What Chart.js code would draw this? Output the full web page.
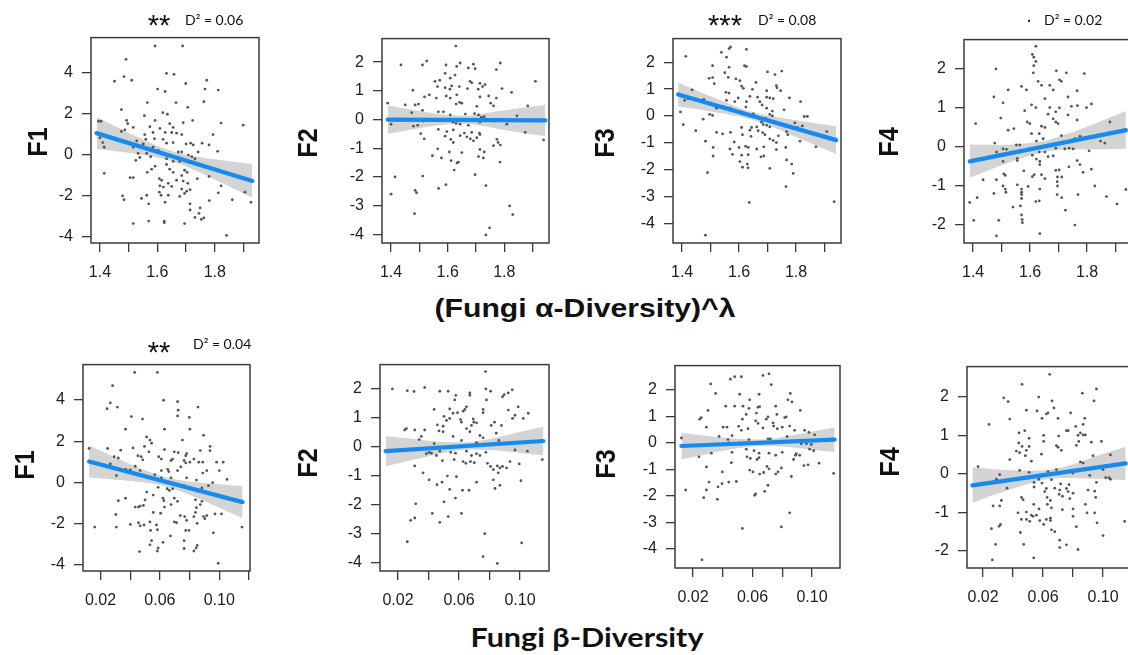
<!DOCTYPE html>
<html><head><meta charset="utf-8">
<script src="https://cdn.jsdelivr.net/npm/chart.js@4/dist/chart.umd.min.js"></script>
<style>
html,body{margin:0;padding:0;background:#fff}
body{width:1128px;height:655px;overflow:hidden;position:relative;font-family:'Liberation Sans',Arial,sans-serif;color:#111}
canvas{position:absolute}
.t{position:absolute;white-space:nowrap;line-height:1}
.yt{position:absolute;white-space:nowrap;line-height:1;font:bold 28px 'Liberation Sans',Arial,sans-serif;transform:translate(-50%,-50%) rotate(-90deg) scaleX(0.9)}
.st{position:absolute;white-space:nowrap;line-height:1;font:29px 'Liberation Sans',Arial,sans-serif;transform:translateX(-50%)}
.d2{position:absolute;white-space:nowrap;line-height:1;font:14px Lato,'Open Sans',sans-serif}
</style>
</head><body>
<script>
// ---------- tick labels ----------
const alphaTickLabels = ['1.4','1.6','1.8'];
const betaTickLabels = ['0.02','0.06','0.10'];

// ---------- top row: (Fungi alpha-diversity)^lambda vs F1..F4 ----------
const alphaF1 = [[1.592,5.29],[1.688,5.29],[1.491,4.64],[1.484,3.80],[1.451,3.57],[1.511,3.62],[1.632,3.95],[1.658,3.91],[1.772,3.62],[1.699,3.46],[1.601,3.19],[1.627,3.07],[1.766,3.19],[1.812,3.14],[1.565,2.53],[1.665,2.53],[1.762,2.57],[1.706,2.30],[1.475,2.19],[1.619,2.04],[1.555,1.89],[1.635,1.96],[1.592,1.66],[1.493,1.66],[1.395,1.62],[1.404,1.62],[1.497,1.50],[1.690,1.55],[1.723,1.66],[1.822,1.53],[1.899,1.43],[1.516,1.32],[1.574,1.35],[1.609,1.27],[1.643,1.50],[1.655,1.32],[1.585,1.07],[1.650,1.07],[1.667,1.04],[1.685,0.97],[1.627,1.07],[1.794,0.97],[1.556,0.97],[1.475,1.12],[1.487,1.20],[1.400,0.81],[1.410,0.58],[1.415,0.35],[1.560,0.74],[1.590,0.77],[1.620,0.74],[1.632,0.55],[1.655,0.58],[1.700,0.51],[1.716,0.55],[1.725,0.46],[1.780,0.46],[1.528,0.66],[1.516,0.35],[1.551,0.51],[1.585,0.35],[1.810,0.15],[1.603,0.20],[1.685,0.12],[1.708,-0.03],[1.720,-0.11],[1.731,-0.21],[1.563,0.05],[1.539,-0.15],[1.577,-0.11],[1.525,-0.29],[1.415,-0.92],[1.655,-0.34],[1.678,-0.34],[1.592,-0.57],[1.632,-0.49],[1.580,-0.72],[1.565,-0.87],[1.643,-0.72],[1.655,-0.87],[1.695,-0.77],[1.704,-0.87],[1.685,-1.03],[1.739,-1.18],[1.780,-1.07],[1.505,-1.13],[1.516,-1.13],[1.607,-1.18],[1.615,-1.26],[1.638,-1.41],[1.667,-1.26],[1.690,-1.30],[1.706,-1.41],[1.609,-1.53],[1.621,-1.59],[1.650,-1.56],[1.685,-1.69],[1.702,-1.79],[1.714,-1.72],[1.607,-1.84],[1.613,-1.99],[1.638,-1.99],[1.678,-2.05],[1.695,-1.90],[1.479,-2.02],[1.484,-2.21],[1.545,-2.15],[1.563,-1.99],[1.812,-1.87],[1.822,-1.53],[1.781,-2.25],[1.861,-2.21],[1.905,-1.84],[1.926,-2.33],[1.627,-2.33],[1.570,-2.41],[1.714,-2.41],[1.749,-2.61],[1.714,-2.71],[1.745,-2.87],[1.731,-3.07],[1.753,-3.17],[1.762,-3.10],[1.695,-3.37],[1.624,-3.25],[1.624,-3.33],[1.570,-3.25],[1.516,-3.37],[1.841,-3.95],[1.632,-0.21],[1.673,0.12],[1.533,0.05],[1.742,0.12],[1.756,0.55]];
const alphaF2 = [[1.629,2.56],[1.435,1.90],[1.526,2.04],[1.511,1.90],[1.594,1.90],[1.644,1.97],[1.632,1.85],[1.691,1.93],[1.697,1.77],[1.673,1.80],[1.786,1.97],[1.772,1.74],[1.591,1.61],[1.626,1.55],[1.609,1.44],[1.555,1.33],[1.572,1.37],[1.564,1.15],[1.591,1.11],[1.614,1.17],[1.641,1.15],[1.679,1.33],[1.685,1.28],[1.714,1.26],[1.723,1.15],[1.732,1.22],[1.910,1.33],[1.477,1.02],[1.608,1.06],[1.670,1.08],[1.708,1.06],[1.792,1.08],[1.826,0.95],[1.518,0.79],[1.535,0.86],[1.560,0.75],[1.595,0.82],[1.609,0.75],[1.632,0.86],[1.714,0.79],[1.745,0.82],[1.772,0.75],[1.388,0.57],[1.450,0.51],[1.485,0.51],[1.497,0.54],[1.630,0.54],[1.642,0.60],[1.650,0.57],[1.703,0.46],[1.752,0.57],[1.762,0.48],[1.883,0.48],[1.473,0.24],[1.511,0.32],[1.567,0.27],[1.585,0.27],[1.609,0.16],[1.662,0.19],[1.695,0.21],[1.709,0.16],[1.719,0.08],[1.729,0.10],[1.845,0.13],[1.400,-0.16],[1.479,-0.23],[1.494,-0.20],[1.514,-0.05],[1.620,-0.09],[1.630,-0.14],[1.644,-0.16],[1.673,-0.20],[1.714,-0.09],[1.766,-0.05],[1.809,-0.16],[1.567,-0.34],[1.597,-0.42],[1.620,-0.36],[1.659,-0.47],[1.685,-0.45],[1.712,-0.47],[1.874,-0.45],[1.505,-0.49],[1.517,-0.67],[1.591,-0.58],[1.611,-0.69],[1.620,-0.80],[1.644,-0.56],[1.668,-0.60],[1.680,-0.67],[1.691,-0.74],[1.703,-0.63],[1.714,-0.52],[1.762,-0.91],[1.774,-0.69],[1.778,-0.80],[1.786,-0.89],[1.939,-0.71],[1.565,-1.02],[1.606,-1.13],[1.650,-1.15],[1.714,-1.04],[1.729,-1.13],[1.546,-1.26],[1.578,-1.34],[1.612,-1.43],[1.633,-1.51],[1.638,-1.48],[1.709,-1.29],[1.726,-1.34],[1.785,-1.48],[1.623,-1.76],[1.697,-1.92],[1.414,-2.00],[1.512,-1.97],[1.594,-2.27],[1.568,-2.40],[1.735,-2.30],[1.485,-2.47],[1.490,-2.55],[1.400,-2.60],[1.483,-3.28],[1.819,-3.01],[1.830,-3.31],[1.748,-3.77],[1.735,-4.02]];
const alphaF3 = [[1.570,2.57],[1.565,2.51],[1.626,2.48],[1.538,2.37],[1.413,2.22],[1.556,2.19],[1.619,1.87],[1.626,1.84],[1.507,1.87],[1.565,1.81],[1.550,1.61],[1.700,1.64],[1.750,1.67],[1.726,1.54],[1.495,1.40],[1.507,1.43],[1.562,1.44],[1.589,1.38],[1.603,1.31],[1.513,1.20],[1.609,1.11],[1.615,1.03],[1.659,1.25],[1.731,1.13],[1.733,1.05],[1.746,0.94],[1.697,0.94],[1.554,0.88],[1.565,0.85],[1.647,0.99],[1.435,0.97],[1.388,0.82],[1.597,0.67],[1.638,0.73],[1.665,0.70],[1.697,0.70],[1.708,0.67],[1.720,0.64],[1.777,0.67],[1.556,0.58],[1.585,0.53],[1.626,0.53],[1.673,0.53],[1.816,0.53],[1.409,0.58],[1.476,0.62],[1.421,0.64],[1.681,0.41],[1.697,0.29],[1.624,0.33],[1.568,0.29],[1.544,0.35],[1.521,0.29],[1.758,0.23],[1.717,0.18],[1.394,0.15],[1.497,0.06],[1.507,0.02],[1.708,0.06],[1.717,0.00],[1.829,-0.02],[1.840,-0.02],[1.650,0.08],[1.694,-0.09],[1.679,-0.23],[1.685,-0.32],[1.697,-0.35],[1.708,-0.41],[1.404,-0.32],[1.474,-0.12],[1.609,-0.43],[1.644,-0.43],[1.662,-0.41],[1.744,-0.32],[1.796,-0.26],[1.822,-0.37],[1.805,-0.43],[1.448,-0.55],[1.521,-0.61],[1.570,-0.61],[1.638,-0.53],[1.667,-0.55],[1.683,-0.62],[1.767,-0.58],[1.908,-0.58],[1.542,-0.67],[1.612,-0.70],[1.642,-0.76],[1.691,-0.70],[1.738,-0.74],[1.771,-0.70],[1.814,-0.94],[1.482,-0.94],[1.583,-0.97],[1.708,-0.85],[1.720,-0.91],[1.731,-0.99],[1.509,-1.17],[1.600,-1.17],[1.623,-1.13],[1.632,-1.17],[1.687,-1.15],[1.731,-1.25],[1.764,-1.17],[1.870,-1.15],[1.568,-1.23],[1.662,-1.23],[1.509,-1.49],[1.577,-1.43],[1.609,-1.46],[1.632,-1.44],[1.677,-1.52],[1.687,-1.49],[1.603,-1.70],[1.629,-1.79],[1.767,-1.64],[1.612,-1.91],[1.632,-1.93],[1.708,-1.95],[1.489,-2.11],[1.785,-1.79],[1.790,-2.14],[1.765,-2.63],[1.636,-3.22],[1.934,-3.19],[1.482,-4.44]];
const alphaF4 = [[1.620,2.58],[1.608,2.37],[1.613,2.30],[1.620,2.19],[1.613,2.08],[1.480,2.00],[1.692,1.95],[1.727,1.90],[1.790,1.88],[1.611,1.90],[1.703,1.72],[1.710,1.68],[1.628,1.68],[1.640,1.58],[1.669,1.58],[1.570,1.55],[1.681,1.46],[1.765,1.44],[1.587,1.46],[1.523,1.46],[1.473,1.28],[1.652,1.24],[1.733,1.28],[1.505,1.13],[1.605,1.08],[1.620,1.01],[1.669,1.01],[1.703,1.00],[1.745,1.04],[1.766,1.06],[1.798,1.01],[1.815,1.10],[1.581,0.93],[1.663,0.84],[1.690,0.90],[1.733,0.82],[1.497,0.74],[1.590,0.64],[1.599,0.60],[1.640,0.53],[1.681,0.72],[1.690,0.64],[1.698,0.60],[1.652,0.50],[1.409,0.60],[1.523,0.43],[1.543,0.47],[1.765,0.69],[1.880,0.64],[1.605,0.34],[1.632,0.34],[1.710,0.29],[1.757,0.21],[1.775,0.27],[1.847,0.15],[1.862,0.10],[1.622,0.15],[1.646,0.21],[1.476,0.10],[1.552,0.05],[1.564,0.05],[1.690,-0.03],[1.722,-0.05],[1.737,-0.03],[1.751,-0.05],[1.505,-0.05],[1.517,-0.06],[1.482,-0.13],[1.632,-0.13],[1.652,-0.13],[1.807,-0.10],[1.608,-0.21],[1.663,-0.25],[1.681,-0.23],[1.555,-0.29],[1.555,-0.35],[1.622,-0.31],[1.634,-0.37],[1.765,-0.35],[1.634,-0.45],[1.505,-0.37],[1.775,-0.45],[1.736,-0.51],[1.578,-0.61],[1.690,-0.60],[1.702,-0.59],[1.815,-0.57],[1.786,-0.65],[1.614,-0.71],[1.608,-0.76],[1.513,-0.73],[1.508,-0.69],[1.640,-0.71],[1.482,-0.84],[1.435,-0.84],[1.696,-0.77],[1.711,-0.77],[1.652,-0.81],[1.695,-0.89],[1.555,-0.97],[1.593,-1.01],[1.505,-1.00],[1.696,-1.00],[1.827,-1.00],[1.513,-1.08],[1.570,-1.08],[1.634,-1.08],[1.936,-1.09],[1.515,-1.16],[1.570,-1.16],[1.570,-1.22],[1.695,-1.22],[1.768,-1.22],[1.473,-1.19],[1.711,-1.30],[1.414,-1.30],[1.868,-1.27],[1.570,-1.32],[1.388,-1.42],[1.620,-1.40],[1.632,-1.38],[1.905,-1.46],[1.540,-1.54],[1.566,-1.51],[1.724,-1.62],[1.570,-1.74],[1.572,-1.86],[1.573,-1.94],[1.402,-1.88],[1.490,-1.88],[1.757,-2.00],[1.634,-2.22],[1.482,-2.28]];

// ---------- bottom row: Fungi beta-diversity vs F1..F4 ----------
const betaF1 = [[0.0430,5.34],[0.0583,5.34],[0.0281,4.70],[0.0244,3.58],[0.0266,3.86],[0.0314,3.66],[0.0408,3.20],[0.0483,3.08],[0.0625,3.99],[0.0719,3.92],[0.0723,3.51],[0.0719,3.23],[0.0798,3.16],[0.0857,3.66],[0.0369,2.59],[0.0631,2.59],[0.0802,2.59],[0.0894,2.29],[0.0511,2.21],[0.0533,2.06],[0.0544,1.91],[0.0752,2.06],[0.0123,1.65],[0.0248,1.65],[0.0336,1.57],[0.0419,1.68],[0.0496,1.75],[0.0526,1.49],[0.0592,1.25],[0.0631,1.60],[0.0697,1.49],[0.0723,1.45],[0.0774,1.30],[0.0780,1.40],[0.0872,1.55],[0.0938,1.75],[0.0938,1.55],[0.0292,1.25],[0.0320,1.19],[0.0474,1.25],[0.0452,1.30],[0.0485,1.10],[0.0610,1.14],[0.0675,1.07],[0.0686,1.14],[0.0763,1.07],[0.0774,0.95],[0.0802,0.99],[0.0829,1.14],[0.0862,0.99],[0.0889,0.99],[0.0982,0.99],[0.1026,0.99],[0.1000,0.58],[0.1052,0.15],[0.0266,0.91],[0.0369,0.64],[0.0401,0.61],[0.0434,0.79],[0.0467,0.58],[0.0610,0.58],[0.0653,0.64],[0.0660,0.53],[0.0719,0.58],[0.0741,0.76],[0.0889,0.46],[0.0916,0.58],[0.0307,0.34],[0.0566,0.38],[0.0610,0.23],[0.0675,0.23],[0.0780,0.23],[0.0846,0.12],[0.0955,0.00],[0.0588,-0.23],[0.0649,-0.30],[0.0664,-0.38],[0.0686,-0.30],[0.0763,-0.15],[0.0818,-0.30],[0.0883,-0.26],[0.0927,-0.15],[0.0511,-0.46],[0.0555,-0.61],[0.0621,-0.76],[0.0627,-0.88],[0.0320,-0.88],[0.0369,-0.76],[0.0500,-0.84],[0.0697,-0.76],[0.0719,-0.91],[0.0840,-0.84],[0.0883,-0.91],[0.0631,-1.19],[0.0675,-1.07],[0.0846,-1.22],[0.0872,-1.07],[0.0434,-1.19],[0.0456,-1.19],[0.0467,-1.14],[0.0489,-1.11],[0.0555,-1.45],[0.0605,-1.49],[0.0840,-1.45],[0.0916,-1.60],[0.0737,-1.60],[0.0767,-1.65],[0.0894,-1.65],[0.0903,-1.75],[0.0971,-1.52],[0.1015,-1.52],[0.0303,-1.55],[0.0697,-1.91],[0.0712,-1.95],[0.0780,-1.83],[0.0829,-1.65],[0.0851,-1.98],[0.0401,-2.03],[0.0307,-2.16],[0.0161,-2.16],[0.0456,-1.95],[0.0467,-2.10],[0.0493,-2.06],[0.0533,-1.91],[0.0577,-2.06],[0.0537,-2.32],[0.0583,-2.29],[0.0774,-2.32],[0.0796,-2.32],[0.0960,-2.44],[0.1153,-2.16],[0.0544,-2.82],[0.0621,-2.90],[0.0671,-2.59],[0.0763,-2.82],[0.0851,-3.05],[0.0844,-3.17],[0.0829,-3.32],[0.0588,-3.17],[0.0583,-3.32],[0.0463,-3.35],[0.0533,-3.02],[0.0763,-3.20],[0.0993,-3.92]];
const betaF2 = [[0.0774,2.59],[0.0163,1.99],[0.0261,1.93],[0.0305,1.90],[0.0375,2.04],[0.0474,1.91],[0.0529,1.91],[0.0579,1.77],[0.0572,1.61],[0.0671,1.85],[0.0671,1.77],[0.0649,1.37],[0.0638,1.28],[0.0627,1.22],[0.0776,1.99],[0.0807,1.91],[0.0780,1.61],[0.0758,1.28],[0.0758,1.17],[0.0885,1.72],[0.0896,1.79],[0.0923,1.85],[0.0949,1.96],[0.0988,1.37],[0.0923,1.26],[0.0967,1.08],[0.0951,0.97],[0.1021,0.97],[0.1054,1.15],[0.0437,1.28],[0.0539,1.30],[0.0561,1.15],[0.0590,1.17],[0.0610,0.93],[0.0616,0.84],[0.0502,1.04],[0.0518,0.90],[0.0539,0.97],[0.0693,0.95],[0.0697,0.84],[0.0715,0.82],[0.0682,0.73],[0.0458,0.75],[0.0496,0.70],[0.0469,0.54],[0.0496,0.51],[0.0244,0.57],[0.0255,0.62],[0.0310,0.57],[0.0375,0.57],[0.0649,0.62],[0.0671,0.51],[0.0811,0.73],[0.0833,0.84],[0.0878,0.73],[0.0844,0.46],[0.0737,0.38],[0.0758,0.30],[0.0561,0.35],[0.0353,0.35],[0.0339,0.24],[0.0616,0.21],[0.0715,0.13],[0.0861,0.21],[0.0437,0.10],[0.0404,-0.20],[0.0386,-0.25],[0.0419,-0.23],[0.0452,-0.31],[0.0474,-0.16],[0.0546,-0.20],[0.0577,-0.23],[0.0649,-0.16],[0.0682,-0.31],[0.0715,-0.25],[0.0737,-0.31],[0.0776,-0.20],[0.0967,-0.12],[0.1048,-0.16],[0.1146,-0.45],[0.0491,-0.49],[0.0568,-0.45],[0.0627,-0.52],[0.0645,-0.58],[0.0675,-0.52],[0.0700,-0.56],[0.0787,-0.58],[0.0807,-0.69],[0.0825,-0.80],[0.0851,-0.67],[0.0868,-0.74],[0.0885,-0.69],[0.0912,-0.74],[0.0934,-0.52],[0.0995,-0.60],[0.0857,-0.91],[0.0310,-0.67],[0.0364,-0.91],[0.0404,-1.15],[0.0456,-1.32],[0.0489,-1.23],[0.0524,-1.02],[0.0539,-1.48],[0.0583,-1.04],[0.0623,-1.51],[0.0666,-1.51],[0.0715,-1.23],[0.0825,-1.15],[0.0836,-1.45],[0.0868,-1.34],[0.1006,-1.18],[0.0502,-1.91],[0.0577,-1.78],[0.0316,-1.98],[0.0425,-2.31],[0.0616,-2.31],[0.0529,-2.42],[0.0474,-2.62],[0.0310,-2.47],[0.0283,-2.55],[0.0261,-3.29],[0.0769,-3.01],[0.1011,-3.33],[0.0758,-3.80],[0.0851,-4.04]];
const betaF3 = [[0.0711,2.60],[0.0670,2.54],[0.0480,2.49],[0.0451,2.40],[0.0525,2.49],[0.0319,2.22],[0.0726,2.19],[0.0352,1.86],[0.0514,1.83],[0.0644,1.83],[0.0854,1.86],[0.0581,1.62],[0.0838,1.62],[0.0865,1.54],[0.0420,1.38],[0.0480,1.38],[0.0536,1.38],[0.0576,1.30],[0.0637,1.34],[0.0648,1.36],[0.0756,1.38],[0.0301,1.22],[0.0921,1.22],[0.0558,1.07],[0.0626,1.12],[0.0764,1.07],[0.0827,0.98],[0.0704,0.98],[0.0693,0.89],[0.0816,0.95],[0.0245,0.89],[0.0256,0.95],[0.0532,0.89],[0.0621,0.83],[0.0637,0.73],[0.0738,0.75],[0.0742,0.63],[0.0767,0.53],[0.0800,0.59],[0.0850,0.63],[0.0883,0.47],[0.0290,0.59],[0.0402,0.59],[0.0428,0.59],[0.0507,0.62],[0.0525,0.47],[0.0570,0.53],[0.0670,0.56],[0.0950,0.47],[0.0979,0.39],[0.0375,0.24],[0.0462,0.27],[0.0435,0.12],[0.0576,0.12],[0.0704,0.15],[0.0720,0.15],[0.0832,0.24],[0.0899,0.06],[0.1018,0.30],[0.0122,0.18],[0.0442,0.00],[0.0525,-0.06],[0.0928,-0.04],[0.0962,-0.04],[0.0995,-0.06],[0.0240,-0.53],[0.0323,-0.39],[0.0462,-0.36],[0.0558,-0.24],[0.0610,-0.30],[0.0644,-0.39],[0.0563,-0.53],[0.0585,-0.59],[0.0630,-0.63],[0.0644,-0.56],[0.0711,-0.39],[0.0756,-0.47],[0.0800,-0.36],[0.0889,-0.47],[0.0894,-0.41],[0.0917,-0.47],[0.0984,-0.24],[0.1011,-0.30],[0.1047,-0.77],[0.0290,-0.91],[0.0458,-0.75],[0.0581,-1.03],[0.0603,-1.10],[0.0648,-1.18],[0.0675,-1.12],[0.0697,-0.89],[0.0711,-0.98],[0.0756,-1.18],[0.0771,-1.10],[0.0794,-0.95],[0.0861,-1.27],[0.0876,-0.63],[0.0946,-0.86],[0.0973,-0.83],[0.1145,-1.15],[0.0397,-1.10],[0.0440,-1.48],[0.0491,-1.46],[0.0395,-1.54],[0.0308,-1.48],[0.0290,-1.78],[0.0368,-1.66],[0.0151,-1.78],[0.0272,-2.07],[0.0364,-2.13],[0.0621,-1.93],[0.0614,-1.98],[0.0682,-1.83],[0.0704,-1.60],[0.0850,-2.64],[0.0532,-3.23],[0.0794,-3.17],[0.0260,-4.41]];
const betaF4 = [[0.0644,2.58],[0.0460,2.32],[0.0338,1.97],[0.0367,1.87],[0.0571,1.99],[0.0862,2.09],[0.0956,2.20],[0.0940,1.89],[0.0240,1.28],[0.0378,1.42],[0.0489,1.65],[0.0560,1.63],[0.0622,1.55],[0.0633,1.58],[0.0593,1.44],[0.0660,1.89],[0.0673,1.71],[0.0700,1.44],[0.0784,1.58],[0.0878,1.44],[0.0867,1.28],[0.0440,1.06],[0.0478,1.12],[0.0604,1.00],[0.0604,0.84],[0.0704,0.98],[0.0756,1.12],[0.0767,1.12],[0.0818,1.23],[0.0833,1.00],[0.0849,1.06],[0.0867,1.01],[0.0882,1.01],[0.0507,0.92],[0.0438,0.80],[0.0460,0.71],[0.0507,0.71],[0.0689,0.73],[0.0700,0.69],[0.0722,0.61],[0.0822,0.74],[0.0838,0.84],[0.0922,0.82],[0.0989,0.84],[0.0378,0.37],[0.0422,0.59],[0.0444,0.55],[0.0482,0.47],[0.0489,0.61],[0.0589,0.51],[0.0933,0.47],[0.1049,0.49],[0.0522,0.33],[0.0167,0.19],[0.0444,0.09],[0.0507,0.04],[0.0633,0.06],[0.0689,0.11],[0.0800,0.02],[0.0849,0.31],[0.0867,0.28],[0.0989,0.15],[0.1000,0.11],[0.0311,-0.02],[0.0400,-0.15],[0.0540,-0.22],[0.0571,-0.14],[0.0593,-0.24],[0.0656,-0.15],[0.0718,-0.26],[0.0773,-0.28],[0.0911,-0.04],[0.0956,-0.22],[0.1018,-0.10],[0.1040,-0.10],[0.1049,-0.14],[0.0289,-0.14],[0.0360,-0.37],[0.0540,-0.34],[0.0622,-0.38],[0.0678,-0.37],[0.0711,-0.42],[0.0756,-0.38],[0.0767,-0.46],[0.0800,-0.50],[0.0900,-0.42],[0.0944,-0.45],[0.0456,-0.61],[0.0467,-0.67],[0.0611,-0.46],[0.0627,-0.61],[0.0649,-0.69],[0.0707,-0.53],[0.0729,-0.58],[0.0778,-0.64],[0.0951,-0.61],[0.0267,-0.83],[0.0311,-0.83],[0.0322,-0.69],[0.0538,-0.79],[0.0573,-0.91],[0.0629,-0.79],[0.0656,-0.88],[0.0729,-0.93],[0.0800,-0.91],[0.0882,-0.79],[0.0433,-1.01],[0.0489,-0.99],[0.0522,-1.07],[0.0533,-1.10],[0.0556,-1.07],[0.0456,-1.18],[0.0489,-1.18],[0.0511,-1.23],[0.0578,-1.21],[0.0622,-1.18],[0.0649,-1.15],[0.0800,-1.10],[0.0893,-1.01],[0.0944,-1.01],[0.0649,-1.21],[0.0316,-1.31],[0.0307,-1.36],[0.0256,-1.42],[0.0604,-1.31],[0.0656,-1.45],[0.0678,-1.50],[0.0822,-1.37],[0.0960,-1.27],[0.1144,-1.23],[0.0449,-1.52],[0.1000,-1.60],[0.0284,-1.83],[0.0471,-1.83],[0.0711,-1.72],[0.0711,-1.91],[0.0756,-1.84],[0.0833,-1.96],[0.0262,-2.23],[0.0538,-2.18]];

// ---------- fitted lines (end points) ----------
const aF1FitX = [1.388, 1.931], aF1FitY = [1.04, -1.29];
const aF2FitX = [1.388, 1.945], aF2FitY = [0.00, -0.03];
const aF3FitX = [1.386, 1.941], aF3FitY = [0.80, -0.90];
const aF4FitX = [1.388, 1.936], aF4FitY = [-0.37, 0.43];
const bF1FitX = [0.0123, 0.1157], bF1FitY = [1.02, -0.95];
const bF2FitX = [0.0119, 0.1153], bF2FitY = [-0.16, 0.19];
const bF3FitX = [0.0122, 0.1152], bF3FitY = [-0.12, 0.12];
const bF4FitX = [0.0129, 0.1151], bF4FitY = [-0.30, 0.27];

// ---------- confidence bands (read at a few x positions) ----------
const aF1BandX = [1.39,1.5,1.6,1.65,1.7,1.8,1.93];
const aF1BandHi = [1.81,1.06,0.43,0.17,-0.01,-0.24,-0.47];
const aF1BandLo = [0.27,0.08,-0.15,-0.33,-0.59,-1.22,-2.11];
const aF2BandX = [1.388,1.5,1.6,1.65,1.7,1.8,1.945];
const aF2BandHi = [0.50,0.30,0.16,0.13,0.17,0.32,0.52];
const aF2BandLo = [-0.50,-0.30,-0.16,-0.15,-0.19,-0.36,-0.58];
const aF3BandX = [1.386,1.5,1.6,1.65,1.7,1.8,1.941];
const aF3BandHi = [1.25,0.73,0.31,0.14,0.02,-0.16,-0.38];
const aF3BandLo = [0.35,0.17,-0.02,-0.16,-0.34,-0.78,-1.42];
const aF4BandX = [1.388,1.5,1.6,1.65,1.7,1.8,1.936];
const aF4BandHi = [0.06,0.05,0.10,0.15,0.26,0.52,0.92];
const aF4BandLo = [-0.79,-0.47,-0.22,-0.13,-0.08,-0.06,-0.05];
const bF1BandX = [0.0123,0.03,0.05,0.064,0.08,0.1,0.1157];
const bF1BandHi = [1.80,1.22,0.60,0.26,0.05,-0.08,-0.17];
const bF1BandLo = [0.24,0.14,0.00,-0.19,-0.59,-1.22,-1.73];
const bF2BandX = [0.0119,0.03,0.05,0.065,0.08,0.1,0.1153];
const bF2BandHi = [0.36,0.26,0.16,0.15,0.26,0.50,0.68];
const bF2BandLo = [-0.68,-0.46,-0.22,-0.11,-0.12,-0.22,-0.30];
const bF3BandX = [0.0122,0.03,0.05,0.065,0.08,0.1,0.1152];
const bF3BandHi = [0.38,0.26,0.15,0.12,0.22,0.42,0.59];
const bF3BandLo = [-0.62,-0.42,-0.21,-0.12,-0.14,-0.26,-0.35];
const bF4BandX = [0.0129,0.03,0.05,0.064,0.08,0.1,0.1151];
const bF4BandHi = [0.17,0.11,0.08,0.105,0.25,0.52,0.70];
const bF4BandLo = [-0.75,-0.51,-0.26,-0.135,-0.11,-0.14,-0.16];

// ---------- layout / styling (not data) ----------
const FONT = "'Liberation Sans', Arial, sans-serif";
const TXT = '#202020', AX = '#3a3a3a', PTC = '#555555', BLUE = 'rgb(22,138,238)', BAND = 'rgb(212,212,212)';
const PL = 50, PR = 6, PT = 6, PB = 45;

const panels = [
 {pts: alphaF1, fx: aF1FitX, fy: aF1FitY, bx: aF1BandX, bh: aF1BandHi, bl: aF1BandLo, box:[91,25,259,243], xr:[1.369,1.954], yr:[-4.32,5.70], ys:2, xs:0.1, lab: alphaTickLabels, dec:1},
 {pts: alphaF2, fx: aF2FitX, fy: aF2FitY, bx: aF2BandX, bh: aF2BandHi, bl: aF2BandLo, box:[382,26,549,243], xr:[1.368,1.958], yr:[-4.30,2.82], ys:1, xs:0.1, lab: alphaTickLabels, dec:1},
 {pts: alphaF3, fx: aF3FitX, fy: aF3FitY, bx: aF3BandX, bh: aF3BandHi, bl: aF3BandLo, box:[673,26,841,243], xr:[1.368,1.958], yr:[-4.73,2.88], ys:1, xs:0.1, lab: alphaTickLabels, dec:1},
 {pts: alphaF4, fx: aF4FitX, fy: aF4FitY, bx: aF4BandX, bh: aF4BandHi, bl: aF4BandLo, box:[964,27,1131,243], xr:[1.368,1.954], yr:[-2.46,2.75], ys:1, xs:0.1, lab: alphaTickLabels, dec:1},
 {pts: betaF1, fx: bF1FitX, fy: bF1FitY, bx: bF1BandX, bh: bF1BandHi, bl: bF1BandLo, box:[83,352,254,571], xr:[0.0082,0.1207], yr:[-4.29,5.72], ys:2, xs:0.02, lab: betaTickLabels, dec:2},
 {pts: betaF2, fx: bF2FitX, fy: bF2FitY, bx: bF2BandX, bh: bF2BandHi, bl: bF2BandLo, box:[380,352,549,571], xr:[0.0082,0.1190], yr:[-4.30,2.83], ys:1, xs:0.02, lab: betaTickLabels, dec:2},
 {pts: betaF3, fx: bF3FitX, fy: bF3FitY, bx: bF3BandX, bh: bF3BandHi, bl: bF3BandLo, box:[675,353,840,568], xr:[0.0079,0.1188], yr:[-4.72,2.91], ys:1, xs:0.02, lab: betaTickLabels, dec:2},
 {pts: betaF4, fx: bF4FitX, fy: bF4FitY, bx: bF4BandX, bh: bF4BandHi, bl: bF4BandLo, box:[967,354,1132,568], xr:[0.0093,0.1193], yr:[-2.44,2.78], ys:1, xs:0.02, lab: betaTickLabels, dec:2}
];

const framePlugin = {
  id: 'frame',
  afterDraw(chart) {
    const {ctx, chartArea: a} = chart;
    ctx.save();
    ctx.strokeStyle = AX; ctx.lineWidth = 1.5;
    ctx.strokeRect(a.left, a.top, a.right - a.left, a.bottom - a.top);
    ctx.restore();
  }
};

function makePanel(p) {
  const [l, t, r, b] = p.box;
  const W = r - l + PL + PR, H = b - t + PT + PB;
  const cv = document.createElement('canvas');
  cv.width = W; cv.height = H;
  cv.style.left = (l - PL) + 'px'; cv.style.top = (t - PT) + 'px';
  cv.style.width = W + 'px'; cv.style.height = H + 'px';
  document.body.appendChild(cv);
  const grid = {drawOnChartArea: false, drawTicks: true, tickLength: 9, color: AX, lineWidth: 1.3};
  new Chart(cv, {
    type: 'line',
    data: {datasets: [
      {data: p.bx.map((x, i) => ({x, y: p.bh[i]})), borderColor: 'transparent', borderWidth: 0, pointRadius: 0,
       fill: '+1', backgroundColor: BAND, cubicInterpolationMode: 'monotone', order: 3},
      {data: p.bx.map((x, i) => ({x, y: p.bl[i]})), borderColor: 'transparent', borderWidth: 0, pointRadius: 0,
       fill: false, cubicInterpolationMode: 'monotone', order: 3},
      {data: p.pts.map(([x, y]) => ({x, y})), showLine: false, pointRadius: 1.4, pointHoverRadius: 0,
       pointBackgroundColor: PTC, pointBorderWidth: 0, order: 2},
      {data: p.fx.map((x, i) => ({x, y: p.fy[i]})), borderColor: BLUE, borderWidth: 4.2, pointRadius: 0,
       fill: false, borderCapStyle: 'round', order: 1}
    ]},
    options: {
      responsive: false, animation: false, events: [],
      layout: {padding: {top: PT, right: PR, left: 0, bottom: 0}},
      plugins: {legend: {display: false}, tooltip: {enabled: false}},
      scales: {
        x: {type: 'linear', position: 'bottom', min: p.xr[0], max: p.xr[1],
            afterFit: s => { s.height = PB; },
            border: {display: false}, grid,
            ticks: {stepSize: p.xs, includeBounds: false, autoSkip: false, maxRotation: 0, minRotation: 0, padding: 11,
                    color: TXT, font: {family: FONT, size: 16},
                    callback: v => { const s = Number(v).toFixed(p.dec); return p.lab.includes(s) ? s : ''; }}},
        y: {type: 'linear', position: 'left', min: p.yr[0], max: p.yr[1],
            afterFit: s => { s.width = PL; },
            border: {display: false}, grid,
            ticks: {stepSize: p.ys, includeBounds: false, padding: 9, color: TXT, font: {family: FONT, size: 16},
                    callback: v => String(Math.round(v))}}
      }
    },
    plugins: [framePlugin]
  });
}
panels.forEach(makePanel);
</script>

<!-- axis titles -->
<div class="yt" style="left:38px;top:142px">F1</div>
<div class="yt" style="left:308px;top:143px">F2</div>
<div class="yt" style="left:605px;top:143px">F3</div>
<div class="yt" style="left:889px;top:142px">F4</div>
<div class="yt" style="left:25px;top:465px">F1</div>
<div class="yt" style="left:308px;top:463px">F2</div>
<div class="yt" style="left:606px;top:464px">F3</div>
<div class="yt" style="left:890px;top:462px">F4</div>

<div class="t" style="left:585px;top:308px;font:bold 26px 'Liberation Sans',Arial,sans-serif;transform:translate(-50%,-50%) scaleX(1.16)">(Fungi α-Diversity)^λ</div>
<div class="t" style="left:587px;top:636px;font:bold 27px Lato,'Open Sans',sans-serif;transform:translate(-50%,-50%) scaleX(1.13)">Fungi β-Diversity</div>

<!-- significance annotations -->
<div class="st" style="left:159px;top:9px">**</div>
<div class="d2" style="left:185px;top:11px">D² = 0.06</div>
<div class="st" style="left:725px;top:9px">***</div>
<div class="d2" style="left:758px;top:11px">D² = 0.08</div>
<div class="st" style="left:1029px;top:8px;font-size:20px">·</div>
<div class="d2" style="left:1044px;top:11px">D² = 0.02</div>
<div class="st" style="left:159px;top:336px">**</div>
<div class="d2" style="left:193px;top:335px">D² = 0.04</div>
</body></html>
